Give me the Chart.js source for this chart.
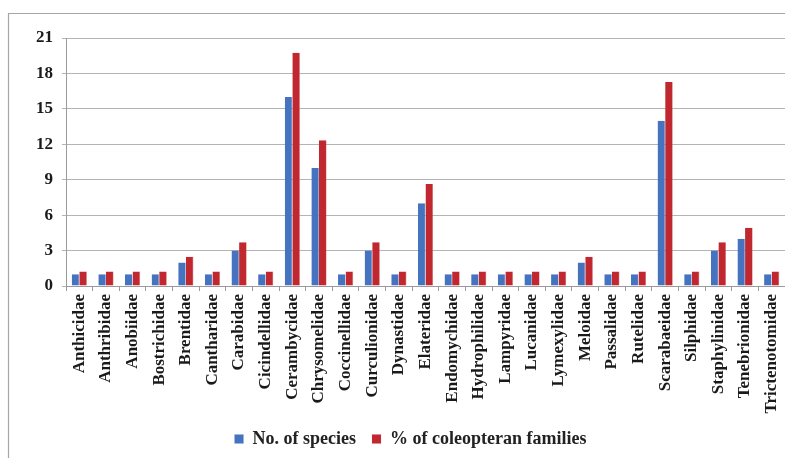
<!DOCTYPE html>
<html>
<head>
<meta charset="utf-8">
<script src="https://cdn.jsdelivr.net/npm/chart.js@4/dist/chart.umd.min.js"></script>
<style>
  html, body { margin: 0; padding: 0; background: #fff; }
  #wrap { width: 785px; height: 458px; position: relative; }
</style>
</head>
<body>
<div id="wrap"><canvas id="c" width="785" height="458"></canvas></div>
<script>
const families = [
  'Anthicidae', 'Anthribidae', 'Anobiidae', 'Bostrichidae', 'Brentidae',
  'Cantharidae', 'Carabidae', 'Cicindellidae', 'Cerambycidae', 'Chrysomelidae',
  'Coccinellidae', 'Curculionidae', 'Dynastidae', 'Elateridae', 'Endomychidae',
  'Hydrophilidae', 'Lampyridae', 'Lucanidae', 'Lymexylidae', 'Meloidae',
  'Passalidae', 'Rutelidae', 'Scarabaeidae', 'Silphidae', 'Staphylinidae',
  'Tenebrionidae', 'Trictenotomidae'
];
const speciesCount = [
  1, 1, 1, 1, 2, 1, 3, 1, 16, 10, 1, 3, 1, 7, 1, 1, 1, 1, 1, 2, 1, 1, 14, 1, 3, 4, 1
];
const familyPercent = [
  1.23, 1.23, 1.23, 1.23, 2.47, 1.23, 3.70, 1.23, 19.75, 12.35, 1.23, 3.70, 1.23, 8.64,
  1.23, 1.23, 1.23, 1.23, 1.23, 2.47, 1.23, 1.23, 17.28, 1.23, 3.70, 4.94, 1.23
];
const yTicks = [0, 3, 6, 9, 12, 15, 18, 21];

const serif = "'Liberation Serif', 'Times New Roman', serif";

// Thin grey frame along the top and left edges of the figure
const framePlugin = {
  id: 'frame',
  beforeDraw(chart) {
    const ctx = chart.ctx;
    ctx.save();
    ctx.strokeStyle = '#a6a6a6';
    ctx.lineWidth = 1.2;
    ctx.beginPath();
    ctx.moveTo(8.5, 458);
    ctx.lineTo(8.5, 13.5);
    ctx.lineTo(785, 13.5);
    ctx.stroke();
    ctx.restore();
  }
};

const PAD_LEFT = 36, PLOT_LEFT = 66, PLOT_BOTTOM = 286, PAD_BOTTOM = 0;

new Chart(document.getElementById('c'), {
  type: 'bar',
  data: {
    labels: families,
    datasets: [
      {
        label: 'No. of species',
        data: speciesCount,
        backgroundColor: '#4673bf',
        borderColor: '#8aa6d6',
        borderWidth: { top: 0, left: 0, right: 0.6, bottom: 0 },
        categoryPercentage: 0.57,
        barPercentage: 1.0
      },
      {
        label: '% of coleopteran families',
        data: familyPercent,
        backgroundColor: '#c1272f',
        borderColor: '#d96a70',
        borderWidth: { top: 0, left: 0, right: 0.6, bottom: 0 },
        categoryPercentage: 0.57,
        barPercentage: 1.0
      }
    ]
  },
  options: {
    responsive: false,
    animation: false,
    devicePixelRatio: 1,
    layout: { padding: { top: 38, left: PAD_LEFT, right: 0, bottom: PAD_BOTTOM } },
    plugins: {
      legend: {
        position: 'bottom',
        labels: {
          font: { family: serif, size: 18, weight: 'bold' },
          color: '#222',
          boxWidth: 9,
          boxHeight: 9,
          padding: 16
        }
      },
      tooltip: { enabled: false }
    },
    scales: {
      x: {
        afterFit(s) {
          const legendH = s.chart.legend ? s.chart.legend.height : 0;
          s.height = 458 - PAD_BOTTOM - legendH - PLOT_BOTTOM;
          s.paddingLeft = 0;
          s.paddingRight = 0;
        },
        grid: {
          offset: true,
          drawOnChartArea: false,
          drawTicks: true,
          tickLength: 5,
          color: '#9a9a9a'
        },
        border: { color: '#9a9a9a' },
        ticks: {
          minRotation: 90,
          maxRotation: 90,
          autoSkip: false,
          padding: 3,
          color: '#1a1a1a',
          font: { family: serif, size: 17, weight: 'bold' }
        }
      },
      y: {
        min: 0,
        max: 21,
        afterFit(s) { s.width = PLOT_LEFT - PAD_LEFT; },
        afterBuildTicks(s) { s.ticks = yTicks.map(v => ({ value: v })); },
        grid: { color: '#b4b4b4', tickLength: 4, lineWidth: 1 },
        border: { color: '#9a9a9a' },
        ticks: {
          padding: 9,
          color: '#1a1a1a',
          font: { family: serif, size: 17, weight: 'bold' }
        }
      }
    }
  },
  plugins: [framePlugin]
});
</script>
</body>
</html>
